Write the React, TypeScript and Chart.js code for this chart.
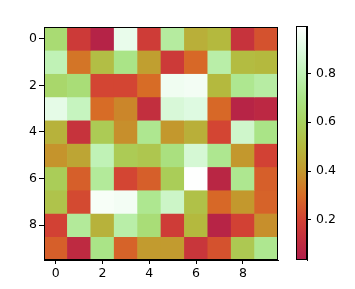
import React, { useEffect, useRef } from "react";
import { Chart, registerables } from "chart.js";
Chart.register(...registerables);

const r0 = [0.65, 0.17, 0.06, 0.93, 0.18, 0.75, 0.47, 0.5, 0.14, 0.24];
const r1 = [0.8, 0.32, 0.52, 0.7, 0.42, 0.17, 0.29, 0.77, 0.51, 0.5];
const r2 = [0.63, 0.66, 0.21, 0.21, 0.3, 0.95, 0.96, 0.5, 0.72, 0.76];
const r3 = [0.92, 0.82, 0.3, 0.36, 0.12, 0.88, 0.9, 0.29, 0.07, 0.09];
const r4 = [0.48, 0.14, 0.57, 0.38, 0.72, 0.4, 0.47, 0.21, 0.85, 0.7];
const r5 = [0.39, 0.44, 0.8, 0.57, 0.55, 0.68, 0.87, 0.72, 0.4, 0.2];
const r6 = [0.58, 0.27, 0.74, 0.21, 0.27, 0.58, 0.99, 0.08, 0.72, 0.27];
const r7 = [0.54, 0.22, 0.97, 0.96, 0.72, 0.84, 0.53, 0.29, 0.4, 0.28];
const r8 = [0.2, 0.74, 0.48, 0.77, 0.66, 0.18, 0.5, 0.07, 0.2, 0.38];
const r9 = [0.27, 0.1, 0.7, 0.28, 0.41, 0.41, 0.15, 0.24, 0.56, 0.72];
const values = [r0, r1, r2, r3, r4, r5, r6, r7, r8, r9];

const axisTicks = [0, 2, 4, 6, 8];
const cbTicks = [0.2, 0.4, 0.6, 0.8];
const vmin = 0.036;
const vmax = 0.994;

const stops: [number, number[]][] = [
  [0.036, [175, 30, 75]],
  [0.1, [190, 42, 65]],
  [0.2, [210, 65, 52]],
  [0.3, [215, 108, 38]],
  [0.4, [195, 152, 45]],
  [0.5, [180, 185, 62]],
  [0.6, [168, 210, 95]],
  [0.7, [170, 228, 135]],
  [0.8, [192, 242, 182]],
  [0.9, [222, 250, 225]],
  [0.994, [255, 255, 255]],
];

function cmap(v: number): string {
  if (v <= stops[0][0]) return `rgb(${stops[0][1].join(",")})`;
  for (let i = 1; i < stops.length; i++) {
    if (v <= stops[i][0]) {
      const [a, ca] = stops[i - 1];
      const [b, cb] = stops[i];
      const t = (v - a) / (b - a);
      const c = ca.map((x, k) => Math.round(x + (cb[k] - x) * t));
      return `rgb(${c.join(",")})`;
    }
  }
  return `rgb(${stops[stops.length - 1][1].join(",")})`;
}

const frame = {
  id: "frame",
  afterDraw(chart: any) {
    const { ctx, chartArea } = chart;
    const l = Math.round(chartArea.left) + 0.5;
    const t = Math.round(chartArea.top) + 0.5;
    const r = Math.round(chartArea.right) - 0.5;
    const b = Math.round(chartArea.bottom) - 0.5;
    ctx.save();
    ctx.strokeStyle = "#000";
    ctx.lineWidth = 1;
    ctx.strokeRect(l, t, r - l, b - t);
    ctx.restore();
  },
};

const font = { family: "DejaVu Sans", size: 12.5 };

export default function App() {
  const mainRef = useRef<HTMLCanvasElement>(null);
  const cbRef = useRef<HTMLCanvasElement>(null);

  useEffect(() => {
    const main = new Chart(mainRef.current!, {
      type: "bar",
      data: {
        datasets: values.map((row, r) => ({
          data: row.map((v, c) => ({ x: c, y: [r - 0.5, r + 0.5] })),
          backgroundColor: row.map(cmap),
          borderWidth: 0,
          grouped: false,
          barPercentage: 1,
          categoryPercentage: 1,
        })),
      } as any,
      options: {
        animation: false,
        responsive: false,
        maintainAspectRatio: false,
        events: [],
        layout: { padding: { left: 0, top: 27, right: 77, bottom: 0 } },
        plugins: { legend: { display: false }, tooltip: { enabled: false } },
        scales: {
          x: {
            type: "linear",
            min: -0.5,
            max: 9.5,
            offset: false,
            grid: { drawOnChartArea: false, tickLength: 4, tickColor: "#000", offset: false },
            border: { display: true, color: "#000" },
            afterBuildTicks: (s: any) => {
              s.ticks = axisTicks.map((v) => ({ value: v }));
            },
            afterFit: (s: any) => {
              s.height = 29;
            },
            ticks: { color: "#000", font, padding: 2, maxRotation: 0, autoSkip: false, callback: (v: any) => String(v) },
          },
          y: {
            type: "linear",
            reverse: true,
            min: -0.5,
            max: 9.5,
            offset: false,
            grid: { drawOnChartArea: false, tickLength: 5, tickColor: "#000", offset: false },
            border: { display: true, color: "#000" },
            afterBuildTicks: (s: any) => {
              s.ticks = axisTicks.map((v) => ({ value: v }));
            },
            afterFit: (s: any) => {
              s.width = 44;
            },
            ticks: { color: "#000", font, padding: 2, autoSkip: false, callback: (v: any) => String(v) },
          },
        },
      } as any,
      plugins: [frame],
    });

    const cb = new Chart(cbRef.current!, {
      type: "bar",
      data: {
        labels: [""],
        datasets: [
          {
            data: [[vmin, vmax]],
            backgroundColor: (ctx: any) => {
              const ch = ctx.chart;
              const ys = ch.scales.y;
              if (!ys || !ch.chartArea) return "#b4b43e";
              const y0 = ys.getPixelForValue(vmin);
              const y1 = ys.getPixelForValue(vmax);
              if (!isFinite(y0) || !isFinite(y1) || y0 === y1) return "#b4b43e";
              const g = ch.ctx.createLinearGradient(0, y0, 0, y1);
              stops.forEach(([v, c]) => {
                const t = Math.min(1, Math.max(0, (v - vmin) / (vmax - vmin)));
                g.addColorStop(t, `rgb(${c.join(",")})`);
              });
              return g;
            },
            borderWidth: 0,
            barPercentage: 1,
            categoryPercentage: 1,
          },
        ],
      } as any,
      options: {
        animation: false,
        responsive: false,
        maintainAspectRatio: false,
        events: [],
        layout: { padding: { left: 296, top: 26, right: 0, bottom: 29 } },
        plugins: { legend: { display: false }, tooltip: { enabled: false } },
        scales: {
          x: { display: false },
          y: {
            position: "right",
            min: vmin,
            max: vmax,
            grid: { drawOnChartArea: false, tickLength: 4, tickColor: "#000" },
            border: { display: true, color: "#000" },
            afterBuildTicks: (s: any) => {
              s.ticks = cbTicks.map((v) => ({ value: v }));
            },
            afterFit: (s: any) => {
              s.width = 48;
            },
            ticks: { color: "#000", font, padding: 5, callback: (v: any) => Number(v).toFixed(1) },
          },
        },
      } as any,
      plugins: [frame],
    });

    return () => {
      main.destroy();
      cb.destroy();
    };
  }, []);

  return (
    <div style={{ position: "fixed", left: 0, top: 0, width: 355, height: 289, background: "#fff" }}>
      <canvas ref={mainRef} width={355} height={289} style={{ position: "absolute", left: 0, top: 0 }} />
      <canvas ref={cbRef} width={355} height={289} style={{ position: "absolute", left: 0, top: 0 }} />
    </div>
  );
}
